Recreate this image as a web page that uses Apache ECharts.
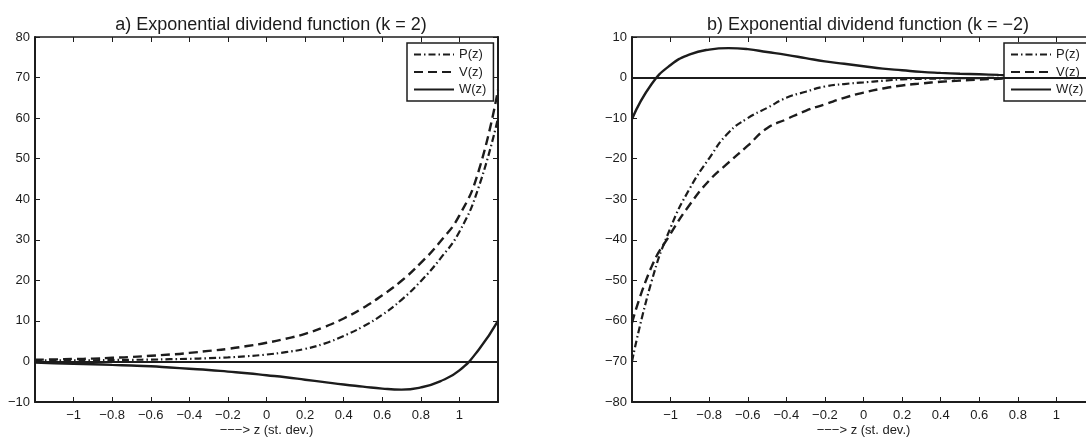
<!DOCTYPE html>
<html lang="en">
<head>
    <meta charset="UTF-8">
    <title>Exponential dividend function</title>
    <script type="text/javascript" src="https://cdn.jsdelivr.net/npm/echarts@6/dist/echarts.min.js"></script>
    <style>
        html, body { margin: 0; padding: 0; background: #fff; }
        #container { width: 1086px; height: 437px; }
    </style>
</head>
<body>
<div id="container"></div>
<script type="text/javascript">
    // z in standard deviations
    var zVals = [-1.2, -1.1, -1.0, -0.9, -0.8, -0.7, -0.6, -0.5, -0.4, -0.3, -0.2, -0.1, 0,
        0.1, 0.2, 0.3, 0.4, 0.5, 0.6, 0.7, 0.8, 0.9, 1.0, 1.1, 1.2];

    // a) k = 2
    var pA = [0.3, 0.3, 0.3, 0.3, 0.35, 0.4, 0.45, 0.55, 0.65, 0.8, 1.0, 1.3, 1.7,
        2.3, 3.1, 4.4, 6.3, 8.6, 11.5, 15.2, 19.8, 25.3, 32, 43, 60];
    var vA = [0.4, 0.5, 0.6, 0.7, 0.9, 1.1, 1.4, 1.7, 2.1, 2.6, 3.1, 3.8, 4.6,
        5.6, 6.8, 8.5, 10.6, 13.2, 16.3, 19.9, 24.3, 29.5, 36, 47, 67];
    var wA = [-0.3, -0.45, -0.6, -0.7, -0.85, -1.0, -1.2, -1.5, -1.8, -2.1, -2.5, -2.9, -3.4,
        -3.9, -4.5, -5.1, -5.7, -6.2, -6.7, -6.95, -6.4, -4.9, -2.2, 2.9, 10];

    // b) k = -2
    var pB = [-70, -50.5, -37, -27.3, -19.9, -13.6, -10, -7.5, -5.0, -3.5, -2.2, -1.6, -1.2,
        -0.8, -0.45, -0.32, -0.23, -0.17, -0.12, -0.08, -0.05, -0.03, -0.02, -0.01, -0.01];
    var vB = [-60.5, -46.8, -38.5, -31.3, -25.4, -21, -16.8, -12.5, -10.3, -8.2, -6.6, -5.0, -3.7,
        -2.7, -1.95, -1.45, -1.05, -0.75, -0.5, -0.3, -0.2, -0.15, -0.1, -0.07, -0.05];
    var wB = [-10.2, -1.7, 3.1, 5.7, 6.9, 7.25, 7.0, 6.3, 5.6, 4.8, 4.0, 3.4, 2.8,
        2.2, 1.8, 1.4, 1.15, 0.95, 0.8, 0.65, 0.55, 0.45, 0.38, 0.32, 0.27];

    var seriesNames = ['P(z)', 'V(z)', 'W(z)'];
    var titles = ['a) Exponential dividend function (k = 2)', 'b) Exponential dividend function (k = \u22122)'];
    var xName = '\u2212\u2212\u2212> z (st. dev.)';

    var font = '"Liberation Sans", Arial, Helvetica, sans-serif';
    var ink = '#1c1c1c';

    function pairs(ys) {
        return zVals.map(function (z, i) { return [z, ys[i]]; });
    }
    function minus(s) { return String(s).replace('-', '\u2212'); }

    var dashP = [7, 3, 1.5, 3];
    var dashV = [9, 5];

    function makeSeries(g, p, v, w) {
        var base = { type: 'line', xAxisIndex: g * 2, yAxisIndex: g * 2, symbol: 'none',
            showSymbol: false, smooth: true, silent: true, animation: false };
        return [
            Object.assign({}, base, { name: seriesNames[0], data: pairs(p),
                lineStyle: { color: ink, width: 2.2, type: dashP }, itemStyle: { color: ink } }),
            Object.assign({}, base, { name: seriesNames[1], data: pairs(v),
                lineStyle: { color: ink, width: 2.4, type: dashV }, itemStyle: { color: ink } }),
            Object.assign({}, base, { name: seriesNames[2], data: pairs(w),
                lineStyle: { color: ink, width: 2.4, type: 'solid' }, itemStyle: { color: ink },
                markLine: { silent: true, symbol: 'none', label: { show: false },
                    lineStyle: { color: ink, width: 2.2, type: 'solid' },
                    data: [{ yAxis: 0 }] } })
        ];
    }

    function xAxes(g) {
        var common = { type: 'value', gridIndex: g, min: -1.2, max: 1.2, interval: 0.2,
            splitLine: { show: false },
            axisTick: { inside: true, length: 5, lineStyle: { color: ink, width: 1 } } };
        return [
            Object.assign({}, common, { position: 'bottom',
                name: xName, nameLocation: 'middle', nameGap: 22, nameMoveOverlap: false,
                nameTextStyle: { fontFamily: font, fontSize: 13, color: ink, verticalAlign: 'top' },
                axisLine: { onZero: false, lineStyle: { color: ink, width: 2 } },
                axisLabel: { margin: 7, fontFamily: font, fontSize: 13, color: ink,
                    formatter: function (val) {
                        var r = Math.round(val * 10) / 10;
                        if (Math.abs(r) > 1.05) return '';
                        return minus(r);
                    } } }),
            Object.assign({}, common, { position: 'top',
                axisLine: { onZero: false, lineStyle: { color: ink, width: 1.5 } },
                axisLabel: { show: false } })
        ];
    }

    function yAxes(g, lo, hi) {
        var common = { type: 'value', gridIndex: g, min: lo, max: hi, interval: 10,
            splitLine: { show: false },
            axisTick: { show: true, inside: true, length: 5, lineStyle: { color: ink, width: 1 } } };
        return [
            Object.assign({}, common, { position: 'left',
                axisLine: { show: true, onZero: false, lineStyle: { color: ink, width: 2 } },
                axisLabel: { margin: 5, fontFamily: font, fontSize: 13, color: ink,
                    formatter: function (val) { return minus(Math.round(val)); } } }),
            Object.assign({}, common, { position: 'right',
                axisLine: { show: true, onZero: false, lineStyle: { color: ink, width: 2 } },
                axisLabel: { show: false } })
        ];
    }

    function legend(left) {
        return {
            data: seriesNames, orient: 'vertical', left: left, top: 43,
            backgroundColor: '#fff', borderColor: ink, borderWidth: 1.5, borderRadius: 0,
            padding: [5, 7, 5, 6], itemWidth: 40, itemHeight: 12, itemGap: 4.5,
            selectedMode: false,
            // keep only the line in the icon, hide the marker circle
            itemStyle: { color: 'rgba(0,0,0,0)', borderColor: 'rgba(0,0,0,0)', borderWidth: 0 },
            textStyle: { fontFamily: font, fontSize: 13, color: ink, lineHeight: 12 }
        };
    }

    var dom = document.getElementById('container');
    var myChart = echarts.init(dom, null, { renderer: 'canvas' });

    var option = {
        backgroundColor: '#fff',
        animation: false,
        title: [
            { text: titles[0], left: 266, top: 11, textAlign: 'center',
                textStyle: { fontFamily: font, fontSize: 18, fontWeight: 'normal', color: ink } },
            { text: titles[1], left: 863, top: 11, textAlign: 'center',
                textStyle: { fontFamily: font, fontSize: 18, fontWeight: 'normal', color: ink } }
        ],
        legend: [legend(407), legend(1004)],
        grid: [
            { left: 35, top: 37, width: 463, height: 365, containLabel: false, outerBoundsMode: 'none' },
            { left: 632, top: 37, width: 463, height: 365, containLabel: false, outerBoundsMode: 'none' }
        ],
        xAxis: xAxes(0).concat(xAxes(1)),
        yAxis: yAxes(0, -10, 80).concat(yAxes(1, -80, 10)),
        series: makeSeries(0, pA, vA, wA).concat(makeSeries(1, pB, vB, wB))
    };

    if (option && typeof option === "object") {
        myChart.setOption(option, true);
    }
</script>
</body>
</html>
